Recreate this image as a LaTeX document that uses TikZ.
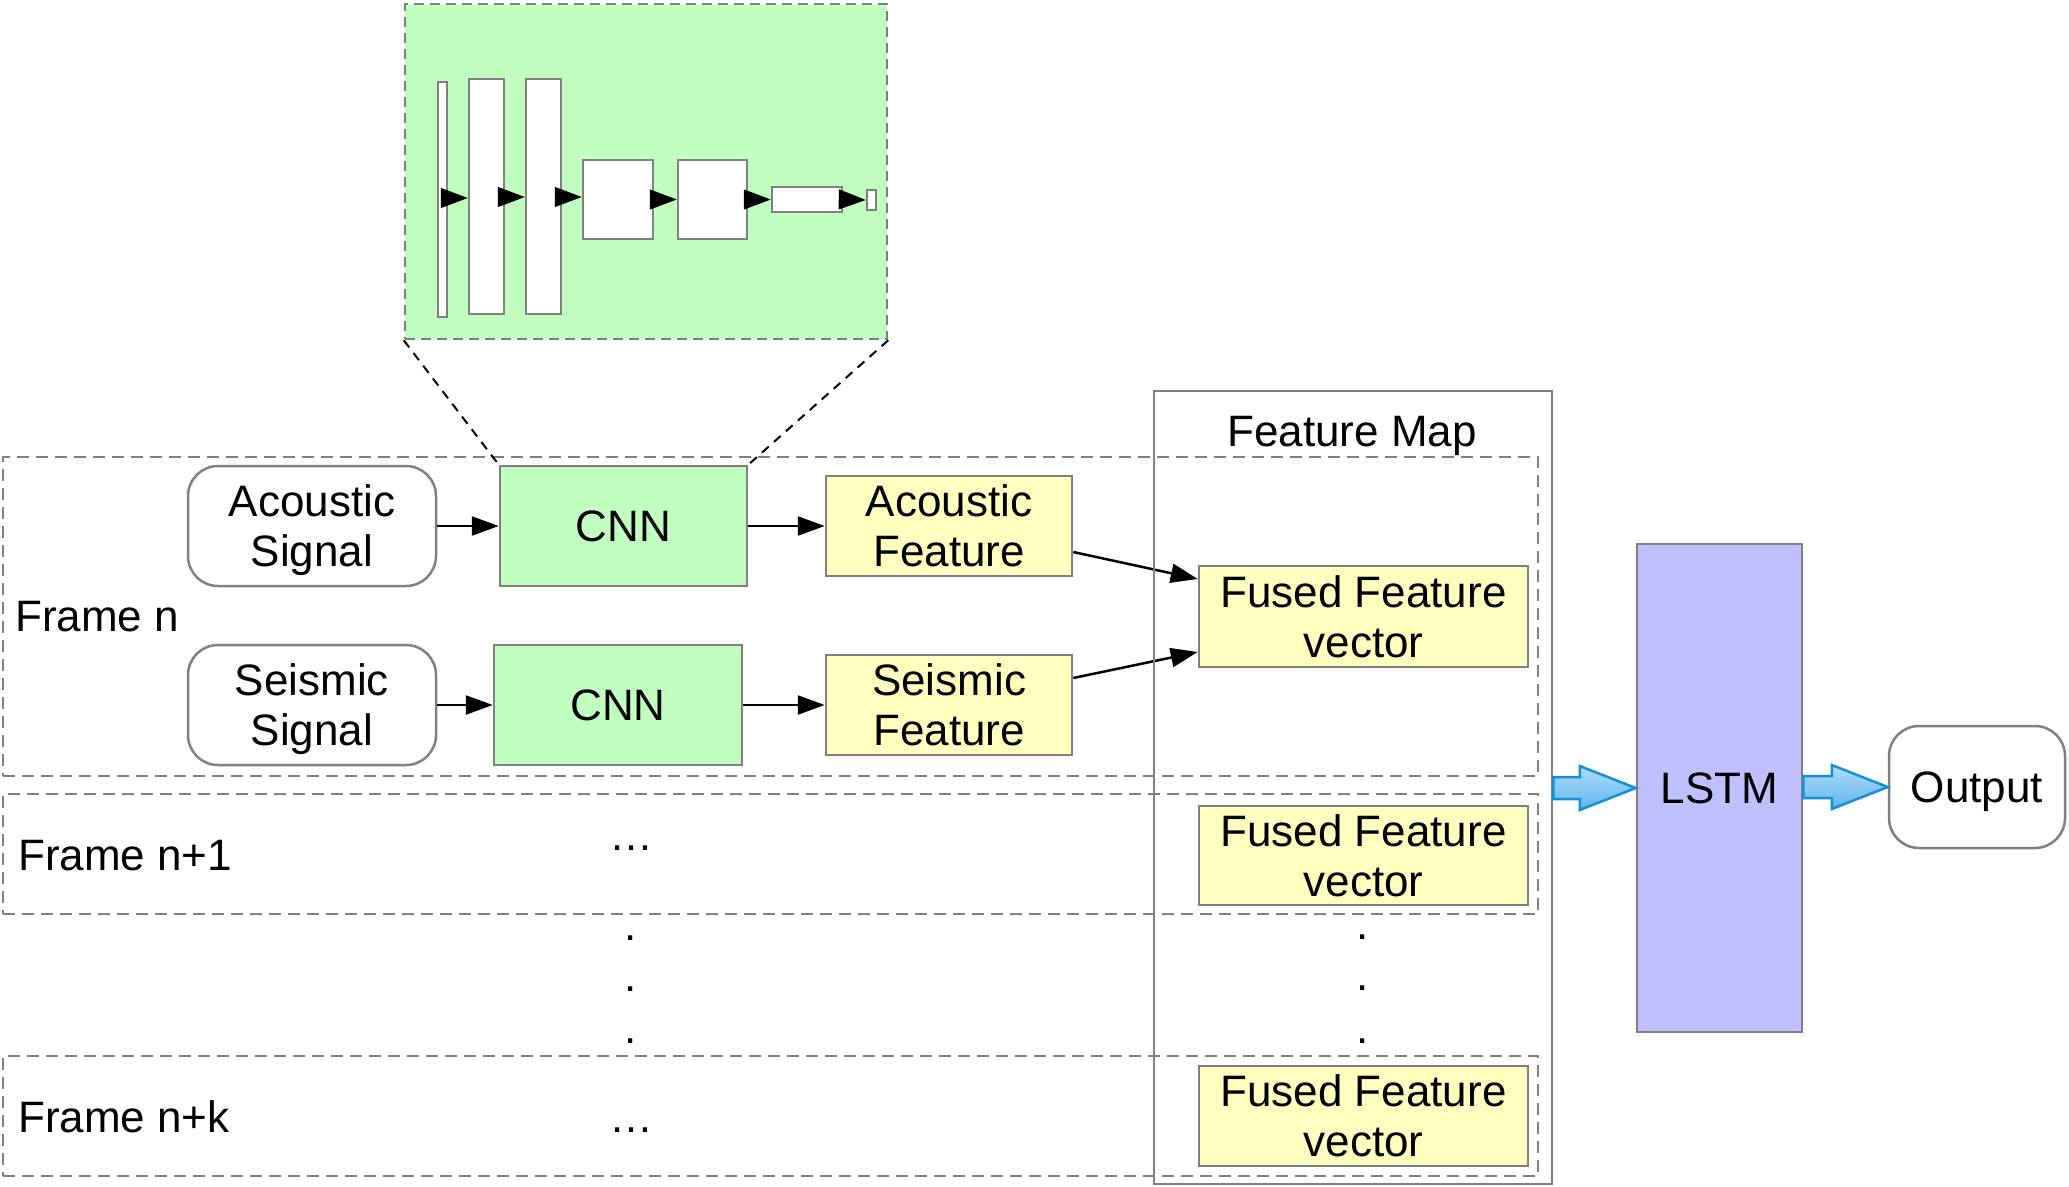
\documentclass[tikz,border=0pt]{standalone}
\usepackage{fontspec}
\setmainfont{Liberation Sans}
\usetikzlibrary{arrows.meta,calc}
\definecolor{gb}{HTML}{808080}
\definecolor{gfill}{HTML}{C0FFC0}
\definecolor{yfill}{HTML}{FFFFC0}
\definecolor{pfill}{HTML}{C0C0FF}
\definecolor{bstroke}{HTML}{1490D8}
\definecolor{btop}{HTML}{B0DEFA}
\definecolor{bbot}{HTML}{5EB3EC}
\begin{document}
\begin{tikzpicture}[x=1pt,y=-1pt,
  txt/.style={font=\fontsize{44}{50}\selectfont, inner sep=0pt},
  box/.style={draw=gb, line width=2.5pt, inner sep=0pt, align=center, font=\fontsize{44}{50}\selectfont},
  framebox/.style={draw=gb, line width=2.5pt, dash pattern=on 12pt off 7pt, inner sep=0pt},
  layer/.style={draw=gb, line width=2.5pt, fill=white, inner sep=0pt},
  tri/.style={-{Triangle[length=27pt,width=20pt]}, line width=1pt, black},
  conn/.style={-{Triangle[length=27pt,width=19pt]}, line width=2.5pt, black},
  zoomline/.style={line width=2pt, black, dash pattern=on 9pt off 7pt},
  blockarrow/.style={draw=bstroke, line width=2.5pt, top color=btop, bottom color=bbot, line join=miter}]
\useasboundingbox (0,0) rectangle (2069,1186);

% frame boxes
\node[framebox, minimum width=1535pt, minimum height=319pt] (framen) at (770.5,616.5) {};
\node[framebox, minimum width=1535pt, minimum height=120pt] (framen1) at (770.5,854) {};
\node[framebox, minimum width=1535pt, minimum height=120pt] (framenk) at (770.5,1116) {};

\node[txt, anchor=base west] (lfn) at (15,631) {Frame n};
\node[txt, anchor=base west] (lfn1) at (18,870) {Frame n+1};
\node[txt, anchor=base west] (lfnk) at (18,1132) {Frame n+k};

% CNN detail
\node[draw=gb, fill=gfill, line width=2.5pt, dash pattern=on 10pt off 6pt, minimum width=482pt, minimum height=335pt, inner sep=0pt] (detail) at (646,171.5) {};
\node[layer, minimum width=9pt, minimum height=235pt] (r1) at (442.5,199.5) {};
\node[layer, minimum width=35pt, minimum height=235pt] (r2) at (486.5,196.5) {};
\node[layer, minimum width=35pt, minimum height=235pt] (r3) at (543.5,196.5) {};
\node[layer, minimum width=70pt, minimum height=79pt] (r4) at (618,199.5) {};
\node[layer, minimum width=69pt, minimum height=79pt] (r5) at (712.5,199.5) {};
\node[layer, minimum width=70pt, minimum height=25pt] (r6) at (807,199.5) {};
\node[layer, minimum width=9pt, minimum height=20pt] (r7) at (871.5,200) {};
\draw[tri] (r1.east |- 0,198) -- (r2.west |- 0,198);
\draw[tri] (r2.east |- 0,197) -- (r3.west |- 0,197);
\draw[tri] (r3.east |- 0,197) -- (r4.west |- 0,197);
\draw[tri] (r4.east) -- (r5.west);
\draw[tri] (r5.east) -- (r6.west);
\draw[tri] (r6.east) -- (r7.west);

% main nodes
\node[box, fill=white, rounded corners=30pt, minimum width=248pt, minimum height=120pt] (asig) at (312,526) {Acoustic\\\smash{Signal}};
\node[box, fill=gfill, minimum width=247pt, minimum height=120pt] (cnn1) at (623.5,526) {CNN};
\node[box, fill=yfill, minimum width=246pt, minimum height=100pt] (afeat) at (949,526) {Acoustic\\Feature};
\node[box, fill=white, rounded corners=30pt, minimum width=248pt, minimum height=120pt] (ssig) at (312,705) {Seismic\\\smash{Signal}};
\node[box, fill=gfill, minimum width=248pt, minimum height=120pt] (cnn2) at (618,705) {CNN};
\node[box, fill=yfill, minimum width=246pt, minimum height=100pt] (sfeat) at (949,705) {Seismic\\Feature};

\node[box, fill=yfill, minimum width=329pt, minimum height=101pt] (f1) at (1363.5,616.5) {Fused Feature\\vector};
\node[box, fill=yfill, minimum width=329pt, minimum height=99pt] (f2) at (1363.5,855.5) {Fused Feature\\vector};
\node[box, fill=yfill, minimum width=329pt, minimum height=100pt] (f3) at (1363.5,1116) {Fused Feature\\vector};

% dots
\node[txt, anchor=base] (hd1) at (631,850) {…};
\node[txt, anchor=base] (hd2) at (631,1132) {…};
\node[txt, anchor=base] (vl1) at (631,940) {.};
\node[txt, anchor=base] (vl2) at (631,991) {.};
\node[txt, anchor=base] (vl3) at (631,1043) {.};
\node[txt, anchor=base] (vr1) at (1363,939) {.};
\node[txt, anchor=base] (vr2) at (1363,990) {.};
\node[txt, anchor=base] (vr3) at (1363,1043) {.};

% LSTM and output
\node[box, fill=pfill, minimum width=165pt, minimum height=488pt] (lstm) at (1719.5,788) {LSTM};
\node[box, fill=white, rounded corners=30pt, minimum width=176pt, minimum height=122pt, text depth=0pt] (out) at (1977,787) {Output};

% connectors
\draw[conn] (asig.east) -- (cnn1.west);
\draw[conn] (cnn1.east) -- (afeat.west);
\draw[conn] (ssig.east) -- (cnn2.west);
\draw[conn] (cnn2.east) -- (sfeat.west);
\draw[conn] ([yshift=-26pt]afeat.east) -- ([yshift=37.5pt]f1.west);
\draw[conn] ([yshift=27pt]sfeat.east) -- ([yshift=-35.5pt]f1.west);

\draw[zoomline] (detail.south west) -- (cnn1.north west);
\draw[zoomline] (detail.south east) -- (cnn1.north east);

% feature map box
\node[draw=gb, line width=2.5pt, minimum width=398pt, minimum height=793pt, inner sep=0pt] (fm) at (1353,787.5) {};
\node[txt, anchor=base] (fmlabel) at (1352,446) {Feature Map};

% block arrows
\path let \p1=(fm.east |- lstm.west), \p2=(lstm.west) in
  [blockarrow] (\x1,\y1+11pt) -- (\x2-56pt,\y1+11pt) -- (\x2-56pt,\y1+22pt) -- (\x2,\y1)
  -- (\x2-56pt,\y1-22pt) -- (\x2-56pt,\y1-11pt) -- (\x1,\y1-11pt) -- cycle;
\path let \p1=(lstm.east |- out.west), \p2=(out.west) in
  [blockarrow] (\x1,\y1+11pt) -- (\x2-56pt,\y1+11pt) -- (\x2-56pt,\y1+22pt) -- (\x2,\y1)
  -- (\x2-56pt,\y1-22pt) -- (\x2-56pt,\y1-11pt) -- (\x1,\y1-11pt) -- cycle;
\end{tikzpicture}
\end{document}
